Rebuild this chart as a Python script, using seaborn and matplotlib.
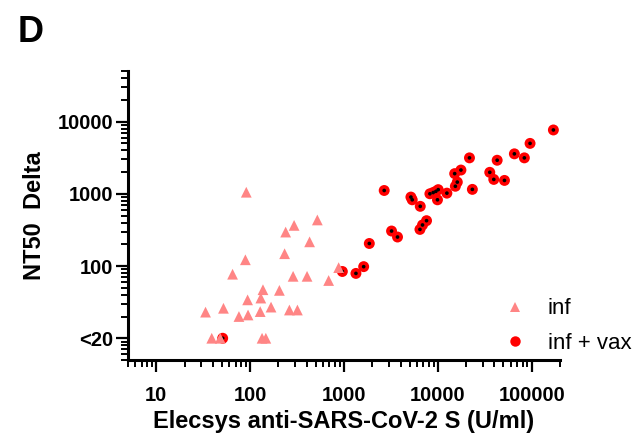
import pandas as pd
import numpy as np
import seaborn as sns
import matplotlib.pyplot as plt
from matplotlib.ticker import LogLocator, NullFormatter, FixedLocator, FixedFormatter
from matplotlib.lines import Line2D

# Data (values <20 are plotted at 10)
inf_elecsys = [91, 520, 294, 239, 430, 233, 89, 877, 65, 287, 404, 686, 137, 205,
               94, 130, 167, 52, 33.5, 262, 319, 76, 95, 128, 39, 48, 134, 147]
inf_nt50 = [1050, 434, 365, 295, 216, 148, 122, 95, 77, 72, 72, 63, 47, 46,
            34, 36, 27, 26, 23, 24.6, 24.6, 20, 21, 23.4, 10, 10, 10, 10]

vax_elecsys = [51, 960, 1340, 1620, 1860, 2680, 3210, 3715, 5160, 5330, 6490, 6440,
               6860, 7570, 8220, 8910, 9520, 10080, 9900, 12470, 15100, 17600, 16100,
               15350, 23300, 21700, 35700, 39400, 42800, 51200, 65300, 83400, 95900, 170000]
vax_nt50 = [10, 84, 79, 98, 205, 1110, 305, 252, 900, 825, 670, 321,
            370, 424, 1000, 1040, 1080, 1140, 825, 1020, 1900, 2130, 1450,
            1270, 1150, 3140, 1980, 1580, 2910, 1530, 3570, 3140, 4980, 7640]

y_ticks = [10, 100, 1000, 10000]
y_ticklabels = ['<20', '100', '1000', '10000']
x_ticks = [10, 100, 1000, 10000, 100000]
x_ticklabels = ['10', '100', '1000', '10000', '100000']

inf_df = pd.DataFrame({'elecsys': inf_elecsys, 'nt50': inf_nt50})
vax_df = pd.DataFrame({'elecsys': vax_elecsys, 'nt50': vax_nt50})

sns.set_theme(style='ticks')
plt.rcParams['font.family'] = ['Liberation Sans', 'DejaVu Sans']

inf_color = '#FF8585'
vax_color = '#FF0000'

fig = plt.figure(figsize=(6.39, 4.40), dpi=100)
ax = fig.add_axes([0.2003, 0.1818, 0.6761, 0.6568])

sns.scatterplot(data=vax_df, x='elecsys', y='nt50', ax=ax, color=vax_color,
                marker='o', s=62, edgecolor='none', legend=False, zorder=3)
sns.scatterplot(data=vax_df, x='elecsys', y='nt50', ax=ax, color='black',
                marker='o', s=7, edgecolor='none', legend=False, zorder=4)
sns.scatterplot(data=inf_df, x='elecsys', y='nt50', ax=ax, color=inf_color,
                marker='^', s=60, edgecolor='none', legend=False, zorder=5)

ax.set_xscale('log')
ax.set_yscale('log')
ax.set_xlim(5, 200000)
ax.set_ylim(5, 50000)

ax.xaxis.set_major_locator(FixedLocator(x_ticks))
ax.xaxis.set_major_formatter(FixedFormatter(x_ticklabels))
ax.yaxis.set_major_locator(FixedLocator(y_ticks))
ax.yaxis.set_major_formatter(FixedFormatter(y_ticklabels))
ax.xaxis.set_minor_locator(LogLocator(base=10, subs=np.arange(2, 10), numticks=20))
ax.yaxis.set_minor_locator(LogLocator(base=10, subs=np.arange(2, 10), numticks=20))
ax.xaxis.set_minor_formatter(NullFormatter())
ax.yaxis.set_minor_formatter(NullFormatter())

for side in ['top', 'right']:
    ax.spines[side].set_visible(False)
for side in ['left', 'bottom']:
    ax.spines[side].set_linewidth(2.2)
    ax.spines[side].set_color('black')

ax.tick_params(which='major', length=8.5, width=1.6, color='black', pad=2)
ax.tick_params(which='minor', length=4.7, width=1.4, color='black')
ax.tick_params(axis='x', which='major', pad=10)
for lbl in ax.get_xticklabels() + ax.get_yticklabels():
    lbl.set_fontsize(14.5)
    lbl.set_fontweight('bold')
    lbl.set_color('black')

ax.set_xlabel('Elecsys anti-SARS-CoV-2 S (U/ml)', fontsize=17, fontweight='bold', color='black')
ax.set_ylabel('NT50  Delta', fontsize=17, fontweight='bold', color='black')
ax.xaxis.set_label_coords(0.5, -0.172)
ax.yaxis.set_label_coords(-0.19, 0.5)

handles = [Line2D([], [], linestyle='none', marker='^', color=inf_color, markersize=7, markeredgewidth=0),
           Line2D([], [], linestyle='none', marker='o', color=vax_color, markersize=7.5, markeredgewidth=0)]
fig.legend(handles, ['inf', 'inf + vax'], loc='upper left', bbox_to_anchor=(0.789, 0.322),
           frameon=False, fontsize=16, handlelength=1.0, handletextpad=0.95,
           labelspacing=0.62, borderpad=0, borderaxespad=0, labelcolor='black')

fig.text(0.028, 0.966, 'D', fontsize=26, fontweight='bold', va='top', ha='left', color='black')

fig.savefig('out.png', dpi=100)
